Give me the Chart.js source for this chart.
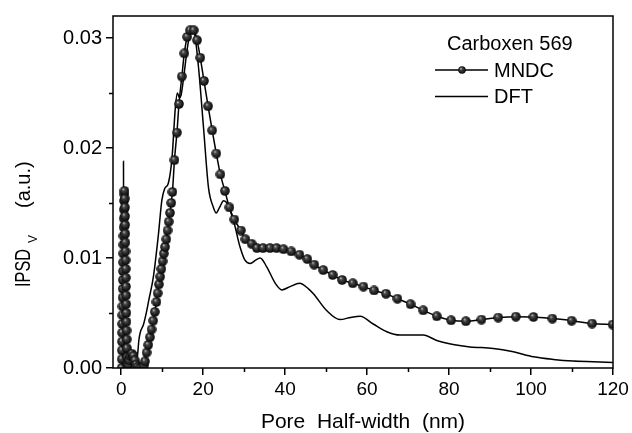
<!DOCTYPE html>
<html>
<head>
<meta charset="utf-8">
<script src="https://cdn.jsdelivr.net/npm/chart.js@4.4.0/dist/chart.umd.min.js"></script>
<style>
html, body { margin: 0; padding: 0; background: #fff; }
canvas { display: block; }
</style>
</head>
<body>
<canvas id="myChart" width="632" height="433"></canvas>
<script>
// MNDC (symbols + line)
const mndcX = [0.10, 0.13, 0.16, 0.19, 0.22, 0.25, 0.28, 0.31, 0.34, 0.37, 0.40, 0.43, 0.46, 0.49, 0.52, 0.55, 0.58, 0.61, 0.64, 0.68, 0.73, 0.80,
    0.86, 0.90, 0.93, 0.96, 0.99, 1.02, 1.05, 1.08, 1.11, 1.14, 1.17, 1.20, 1.23, 1.26, 1.29, 1.32, 1.36, 1.40, 1.45, 1.52,
    1.70, 1.90, 2.20, 2.60, 3.00, 3.30, 3.60, 4.00, 4.50, 5.00,
    5.50, 5.80, 6.20, 6.60, 7.00, 7.40, 7.80, 8.20, 8.60, 8.90, 9.20, 9.50, 9.80, 10.1, 10.4, 10.7, 11.0, 11.3, 11.6, 11.9, 12.2, 12.5,
    13.0, 13.6, 14.1, 14.8, 15.4, 16.1, 16.8, 17.7, 18.5, 19.3, 20.2, 21.2, 22.2, 23.2, 24.2, 25.3, 26.4, 27.6, 29.2, 30.3, 31.8,
    33.1, 34.6, 36.3, 37.9, 39.6, 41.5, 43.5, 45.4, 47.1, 49.3, 51.6, 53.9, 56.5, 59.1, 61.7, 64.6, 67.4, 70.6, 73.7, 77.0,
    80.5, 84.1, 87.9, 92.0, 96.3, 100.6, 105.2, 109.9, 114.9, 119.9];
const mndcY = [0.0000, 0.0008, 0.0016, 0.0024, 0.0032, 0.0040, 0.0048, 0.0056, 0.0064, 0.0072, 0.0080, 0.0088, 0.0096, 0.0104, 0.0112, 0.0120, 0.0128, 0.0136, 0.0144, 0.0152, 0.0158, 0.0161,
    0.0154, 0.0146, 0.0138, 0.0130, 0.0122, 0.0114, 0.0106, 0.0098, 0.0090, 0.0082, 0.0074, 0.0066, 0.0058, 0.0050, 0.0042, 0.0034, 0.0026, 0.0018, 0.0010, 0.0004,
    0.0003, 0.0007, 0.0011, 0.0013, 0.0011, 0.0007, 0.0003, 0.0001, 0.0000, 0.0000,
    0.0002, 0.0006, 0.0014, 0.0021, 0.0028, 0.0035, 0.0043, 0.0051, 0.0060, 0.0068, 0.0076, 0.0083, 0.0090, 0.0097, 0.0104, 0.0110, 0.0117, 0.0125, 0.0133, 0.0141, 0.0150, 0.0160,
    0.0189, 0.0214, 0.0240, 0.0265, 0.0286, 0.0301, 0.0307, 0.0307, 0.0298, 0.0282, 0.0261, 0.0238, 0.0216, 0.0195, 0.0176, 0.0161, 0.0146, 0.0135, 0.0125, 0.0117, 0.0113,
    0.0109, 0.0109, 0.0109, 0.0109, 0.0108, 0.0106, 0.0103, 0.0099, 0.0094, 0.0089, 0.00846, 0.0080, 0.0077, 0.0074, 0.00705, 0.00675, 0.0063, 0.0058, 0.00524, 0.0047,
    0.00434, 0.00425, 0.0044, 0.00458, 0.00467, 0.00464, 0.00449, 0.0043, 0.00404, 0.00395];

// DFT (plain line)
const dftX = [0.0, 0.40, 0.50, 0.56, 0.62, 0.75, 1.0, 2.0, 3.0, 3.6, 4.0, 4.3, 4.7, 5.4, 6.0, 6.7, 7.9, 9.1, 9.9, 10.6, 11.5,
    12.4, 13.2, 13.7, 14.2, 14.6, 15.2, 16.0, 16.8, 17.5, 18.0, 18.9, 20.1, 21.3, 22.5, 23.2, 24.0, 25.0, 25.8, 27.4, 29.0,
    30.2, 31.5, 32.8, 33.9, 35.5, 37.6, 39.2, 41.2, 43.5, 45.7, 46.9, 50.2, 53.4, 56.0, 58.3, 61.5, 64.8, 68.0, 73.7, 77.0,
    81.0, 85.1, 90.8, 95.7, 100.6, 105.4, 110.3, 115.2, 120.0];
const dftY = [0.0000, 0.0002, 0.0060, 0.0188, 0.0060, 0.0010, 0.0004, 0.0003, 0.0003, 0.0005, 0.0012, 0.0025, 0.0033, 0.0039, 0.0048, 0.0061, 0.0084, 0.0122, 0.0152, 0.0163, 0.0168,
    0.0191, 0.0236, 0.0250, 0.0246, 0.0248, 0.0263, 0.0287, 0.0305, 0.0308, 0.0302, 0.0272, 0.0218, 0.0164, 0.0146, 0.0141, 0.0146, 0.0152, 0.0150, 0.0134, 0.0110,
    0.0098, 0.0095, 0.0098, 0.0100, 0.0092, 0.0077, 0.0071, 0.0074, 0.0077, 0.0072, 0.00675, 0.0052, 0.0044, 0.0046, 0.0047, 0.0040, 0.0033, 0.0030, 0.0030, 0.0025,
    0.00214, 0.00192, 0.00178, 0.00147, 0.00102, 0.00078, 0.00063, 0.00057, 0.00051];

const xTicks = [0, 20, 40, 60, 80, 100, 120];
const xMinor = [10, 30, 50, 70, 90, 110];
const yTicks = [0, 0.01, 0.02, 0.03];
const yMinor = [0.005, 0.015, 0.025];
const seriesNames = ['MNDC', 'DFT'];
const legendTitle = 'Carboxen 569';

const FONT = "'Liberation Sans', Arial, Helvetica, sans-serif";

// shaded ball symbol
function ball(size) {
    const c = document.createElement('canvas');
    c.width = size;
    c.height = size;
    const g = c.getContext('2d');
    const r = size / 2;
    const grad = g.createRadialGradient(r * 0.7, r * 0.6, 0, r, r, r);
    grad.addColorStop(0, '#d8d8d8');
    grad.addColorStop(0.3, '#484848');
    grad.addColorStop(1, '#000');
    g.fillStyle = grad;
    g.beginPath();
    g.arc(r, r, r - 0.2, 0, Math.PI * 2);
    g.fill();
    return c;
}
const ballBig = ball(10);
const ballSmall = ball(8);

const extras = {
    id: 'extras',
    afterDraw(chart) {
        const ctx = chart.ctx;
        const a = chart.chartArea;
        const xs = chart.scales.x, ys = chart.scales.y;
        ctx.save();
        ctx.strokeStyle = '#000';
        ctx.lineWidth = 1.5;
        ctx.strokeRect(a.left, a.top, a.right - a.left, a.bottom - a.top);

        // minor ticks
        ctx.beginPath();
        xMinor.forEach(v => {
            const px = Math.round(xs.getPixelForValue(v)) + 0.5;
            ctx.moveTo(px, a.bottom);
            ctx.lineTo(px, a.bottom + 4);
        });
        yMinor.forEach(v => {
            const py = Math.round(ys.getPixelForValue(v)) + 0.5;
            ctx.moveTo(a.left, py);
            ctx.lineTo(a.left - 4, py);
        });
        ctx.stroke();

        ctx.fillStyle = '#000';
        // x title
        ctx.font = '21px ' + FONT;
        ctx.textAlign = 'center';
        ctx.textBaseline = 'alphabetic';
        ctx.fillText('Pore  Half-width  (nm)', (a.left + a.right) / 2, 428);

        // y title with subscript
        ctx.save();
        ctx.translate(30, 0);
        ctx.rotate(-Math.PI / 2);
        ctx.textAlign = 'left';
        ctx.save();
        ctx.translate(-287, 0);
        ctx.scale(0.74, 1);
        ctx.font = '22px ' + FONT;
        ctx.fillText('IPSD', 0, 0);
        ctx.restore();
        ctx.font = '12px ' + FONT;
        ctx.fillText('V', -243, 7);
        ctx.font = '20px ' + FONT;
        ctx.fillText('(a.u.)', -208, 0);
        ctx.restore();

        // legend
        ctx.font = '20px ' + FONT;
        ctx.textAlign = 'left';
        ctx.fillText(legendTitle, 447, 50);
        ctx.lineWidth = 1.5;
        ctx.beginPath();
        ctx.moveTo(435, 70);
        ctx.lineTo(488, 70);
        ctx.moveTo(435, 96.5);
        ctx.lineTo(488, 96.5);
        ctx.stroke();
        ctx.drawImage(ballSmall, 462 - 4, 70 - 4);
        ctx.fillText(seriesNames[0], 494, 77);
        ctx.fillText(seriesNames[1], 494, 103);
        ctx.restore();
    }
};

new Chart(document.getElementById('myChart').getContext('2d'), {
    type: 'line',
    data: {
        datasets: [{
            label: seriesNames[0],
            data: mndcX.map((x, i) => ({ x: x, y: mndcY[i] })),
            borderColor: '#000',
            borderWidth: 1.5,
            pointStyle: ballBig,
            pointRadius: 5,
            cubicInterpolationMode: 'monotone',
            fill: false
        }, {
            label: seriesNames[1],
            data: dftX.map((x, i) => ({ x: x, y: dftY[i] })),
            borderColor: '#000',
            borderWidth: 1.5,
            pointRadius: 0,
            cubicInterpolationMode: 'monotone',
            fill: false
        }]
    },
    options: {
        responsive: false,
        animation: false,
        devicePixelRatio: 1,
        layout: { padding: { left: 0, top: 14, right: 19, bottom: 0 } },
        plugins: { legend: { display: false }, tooltip: { enabled: false } },
        scales: {
            x: {
                type: 'linear',
                min: -2,
                max: 120,
                afterBuildTicks: s => { s.ticks = xTicks.map(v => ({ value: v })); },
                afterFit: s => { s.height = 65; },
                border: { display: false },
                grid: { drawOnChartArea: false, drawTicks: true, tickLength: 7, color: '#000', lineWidth: 1.5 },
                ticks: {
                    color: '#000',
                    font: { family: FONT, size: 19 },
                    padding: 3,
                    maxRotation: 0,
                    callback: v => String(v)
                }
            },
            y: {
                type: 'linear',
                min: 0,
                max: 0.032,
                afterBuildTicks: s => { s.ticks = yTicks.map(v => ({ value: v })); },
                afterFit: s => { s.width = 113; },
                border: { display: false },
                grid: { drawOnChartArea: false, drawTicks: true, tickLength: 7, color: '#000', lineWidth: 1.5 },
                ticks: {
                    color: '#000',
                    font: { family: FONT, size: 20 },
                    padding: 4,
                    callback: v => v.toFixed(2)
                }
            }
        }
    },
    plugins: [extras]
});
</script>
</body>
</html>
